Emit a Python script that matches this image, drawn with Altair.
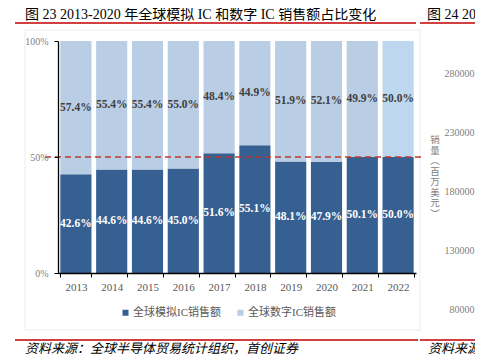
import altair as alt
import pandas as pd

# ---------------- data ----------------
years = ["2013", "2014", "2015", "2016", "2017", "2018", "2019", "2020", "2021", "2022"]
analog_share = [42.6, 44.6, 44.6, 45.0, 51.6, 55.1, 48.1, 47.9, 50.1, 50.0]
digital_share = [57.4, 55.4, 55.4, 55.0, 48.4, 44.9, 51.9, 52.1, 49.9, 50.0]
series_names = ["全球模拟IC销售额", "全球数字IC销售额"]
highlight_key = "全球数字IC销售额(2022)"
y_ticks = [0, 50, 100]
ref_value = [50]
right_axis_ticks = [80000, 130000, 180000, 230000, 280000]
right_axis_title = ["销", "量", "︵", "百", "万", "美", "元", "︶"]

title_text = "图  23 2013-2020 年全球模拟 IC 和数字 IC 销售额占比变化"
title_text_2 = "图  24 20"
source_text = "资料来源：全球半导体贸易统计组织，首创证券"
source_text_2 = "资料来源"

rows = []
for i, yr in enumerate(years):
    rows.append({"year": yr, "series": series_names[0], "value": analog_share[i],
                 "ord": 0, "ckey": series_names[0]})
    rows.append({"year": yr, "series": series_names[1], "value": digital_share[i],
                 "ord": 1, "ckey": highlight_key if yr == "2022" else series_names[1]})
df = pd.DataFrame(rows)

SERIF = "Liberation Serif, Noto Sans CJK SC"
DARK = "#366092"
LIGHT = "#B9CDE5"
LIGHTER = "#BDD7EE"
W, H = 358, 232

x_enc = alt.X(
    "year:N", sort=years,
    scale=alt.Scale(paddingInner=0.13, paddingOuter=0.065),
    axis=alt.Axis(title=None, labelAngle=0, tickBand="extent", tickSize=4,
                  tickColor="#000000", domainColor="#000000", domainWidth=1.3,
                  labelFont=SERIF, labelFontSize=11, labelColor="#595959",
                  labelPadding=4, zindex=1),
)

y_scale = alt.Scale(domain=[0, 100], nice=False)
y_axis = alt.Axis(title=None, values=y_ticks, labelExpr="datum.value + '%'",
                  grid=False, tickSize=4, tickColor="#000000",
                  domainColor="#000000", domainWidth=1.3,
                  labelFont=SERIF, labelFontSize=10, labelColor="#808080",
                  labelPadding=6, zindex=1)

base = (
    alt.Chart(df)
    .transform_stack(stack="value", groupby=["year"], as_=["y0", "y1"],
                     sort=[alt.SortField("ord", order="ascending")])
    .transform_calculate(mid="(datum.y0 + datum.y1) / 2",
                         label="format(datum.value, '.1f') + '%'")
)

bars = base.mark_bar().encode(
    x=x_enc,
    y=alt.Y("y0:Q", scale=y_scale, axis=y_axis),
    y2="y1:Q",
    color=alt.Color(
        "ckey:N",
        scale=alt.Scale(domain=[series_names[0], series_names[1], highlight_key],
                        range=[DARK, LIGHT, LIGHTER]),
        legend=alt.Legend(
            title=None, values=series_names, orient="none", direction="horizontal",
            legendX=62, legendY=266, symbolType="square", symbolSize=36,
            symbolStrokeWidth=0, labelFont=SERIF, labelFontSize=11,
            labelColor="#595959", labelOffset=2, columnPadding=14, padding=0,
        ),
    ),
)

labels = base.mark_text(font=SERIF, fontWeight="bold", fontSize=11.5).encode(
    x=x_enc,
    y=alt.Y("mid:Q", scale=y_scale, axis=y_axis),
    text="label:N",
    color=alt.condition("datum.ord == 0", alt.value("white"), alt.value("#404040")),
)

ref_rule = (
    alt.Chart(pd.DataFrame({"v": ref_value}))
    .mark_rule(color="#C0392B", strokeWidth=1.5, strokeDash=[6, 4])
    .encode(y=alt.Y("v:Q", scale=y_scale, axis=y_axis), x=alt.value(-13), x2=alt.value(W + 6))
)

main = alt.layer(bars, labels, ref_rule)

right_axis = (
    alt.Chart(pd.DataFrame({"v": right_axis_ticks}))
    .mark_point(opacity=0)
    .encode(
        y=alt.Y("v:Q",
                scale=alt.Scale(domain=[80000, 280000], range=[268, 32], zero=False, nice=False),
                axis=alt.Axis(orient="right", values=right_axis_ticks, format="d",
                              domain=False, ticks=False, tickSize=0, grid=False,
                              labelAlign="right", labelPadding=58, labelOverlap=False,
                              labelFont=SERIF, labelFontSize=10, labelColor="#808080",
                              title=None))
    )
)

one = alt.Data(values=[{"a": 1}])

def txt(text, x, y, align="left", baseline="middle", **kw):
    return alt.Chart(one).mark_text(text=text, align=align, baseline=baseline, **kw).encode(
        x=alt.value(x), y=alt.value(y))

def line(x1, x2, y, color="#C00000", w=1.5):
    return alt.Chart(one).mark_rule(color=color, strokeWidth=w).encode(
        x=alt.value(x1), x2=alt.value(x2), y=alt.value(y))

border = alt.Chart(one).mark_rect(fill="transparent", stroke="#ececec", strokeWidth=1).encode(
    x=alt.value(-33), x2=alt.value(362), y=alt.value(-11), y2=alt.value(289))

decor = [
    txt(title_text, -33, -26.5, font=SERIF, fontSize=14, color="#000000"),
    txt(title_text_2, 369, -26.5, font=SERIF, fontSize=14, color="#000000"),
    line(-43, 358, -18),
    line(362, 430, -18),
    line(-43, 360, 299),
    line(362, 430, 299),
    txt(source_text, -33, 307.5, font="Noto Sans CJK SC", fontSize=13, fontStyle="italic", color="#000000"),
    txt(source_text_2, 370, 307.5, font="Noto Sans CJK SC", fontSize=13, fontStyle="italic", color="#000000"),
    txt(right_axis_title, 377, 94, align="center", baseline="top",
        font="Noto Sans CJK SC", fontSize=9.5, lineHeight=10.5, color="#808080"),
]

chart = (
    alt.layer(border, main, right_axis, *decor)
    .resolve_scale(y="independent")
    .properties(
        width=W, height=H,
        autosize=alt.AutoSizeParams(type="none"),
        padding={"left": 50, "top": 33, "right": 59, "bottom": 82},
        background="white",
    )
    .configure_view(stroke=None)
)

chart.save("out.html", embed_options={"renderer": "svg", "actions": False})
